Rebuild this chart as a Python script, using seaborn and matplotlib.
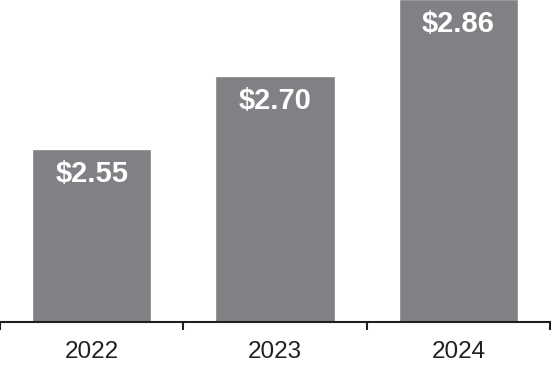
import matplotlib
matplotlib.use("Agg")
import matplotlib.pyplot as plt
import seaborn as sns
import pandas as pd

years = ["2022", "2023", "2024"]
values = [2.55, 2.70, 2.86]
labels = ["$2.55", "$2.70", "$2.86"]

sns.set_style("white")
plt.rcParams['font.family'] = ['Liberation Sans', 'DejaVu Sans']

df = pd.DataFrame({"year": years, "value": values})

fig = plt.figure(figsize=(5.51, 3.68), dpi=100)
ax = fig.add_axes([0, 46/368, 550/551, 322/368])
sns.barplot(data=df, x="year", y="value", color="#808184", saturation=1,
            width=0.65, ax=ax)

ax.set_ylim(2.1917, 2.858)
ax.set_xlim(-0.5, 2.5)
for s in ["top", "left", "right"]:
    ax.spines[s].set_visible(False)
ax.spines["bottom"].set_color("#231f20")
ax.spines["bottom"].set_linewidth(1.5)
ax.set_yticks([])
ax.set_xlabel("")
ax.set_ylabel("")
ax.set_xticks([0, 1, 2])
ax.set_xticklabels(years, fontsize=17.5, color="#231f20")
ax.tick_params(axis="x", which="major", length=0, pad=14)
ax.set_xticks([-0.5, 0.5, 1.5, 2.5], minor=True)
ax.tick_params(axis="x", which="minor", length=5.5, width=1.5, color="#231f20",
               direction="out", bottom=True)

for i, (v, lab) in enumerate(zip(values, labels)):
    ax.annotate(lab, xy=(i, v), xytext=(0, -8), textcoords="offset points",
                ha="center", va="top", color="white", fontsize=21,
                fontweight="bold", annotation_clip=False)

fig.savefig("out.png", dpi=100)
